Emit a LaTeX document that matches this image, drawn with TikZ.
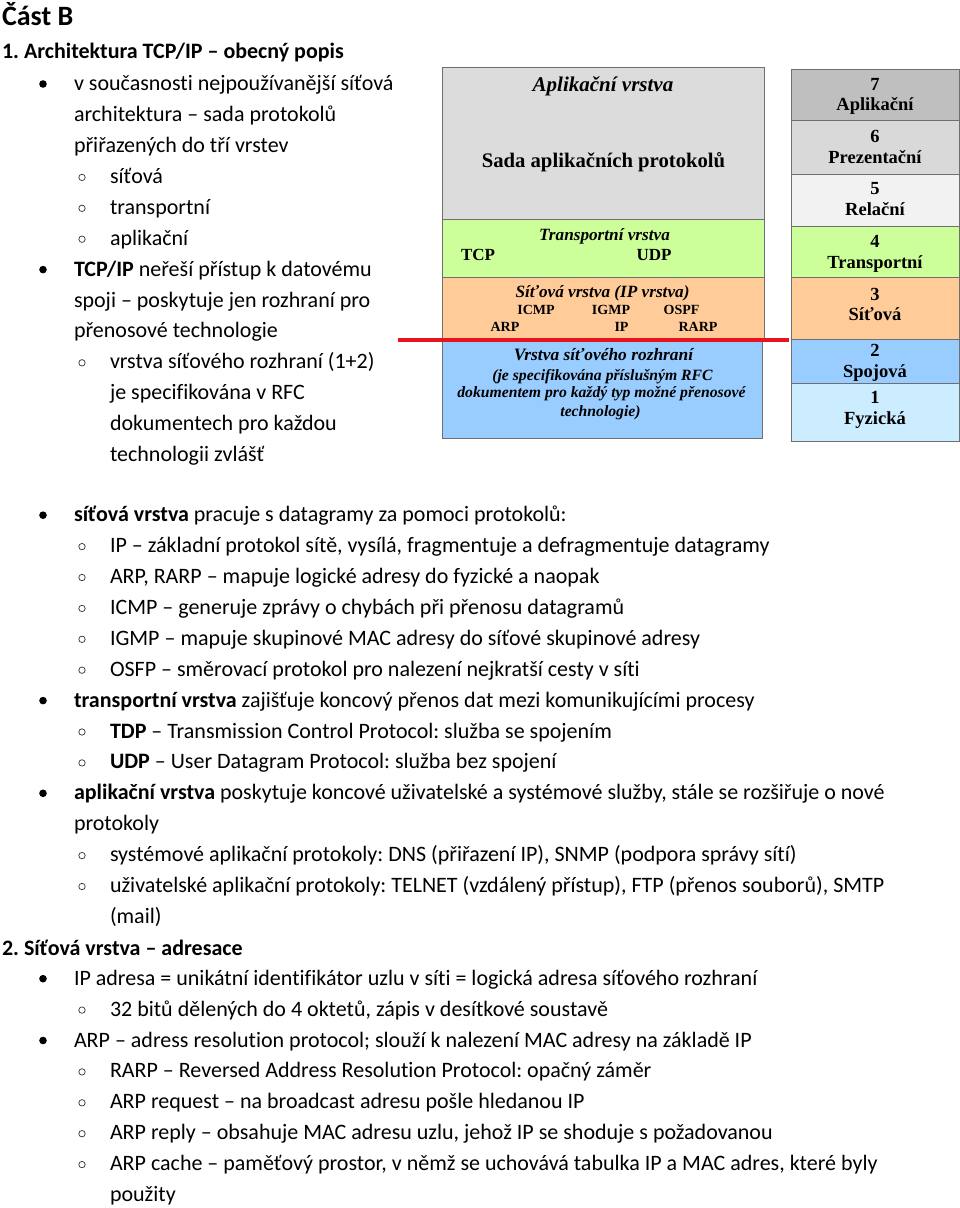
\documentclass[tikz,border=0pt]{standalone}
\usepackage{fontspec}
\setmainfont[Ligatures=NoCommon]{Carlito}
\newfontfamily\tnr{Liberation Serif}
\definecolor{appgray}{HTML}{DCDCDC}
\definecolor{trgreen}{HTML}{CCFF99}
\definecolor{netorange}{HTML}{FFCC99}
\definecolor{ifblue}{HTML}{99CCFF}
\definecolor{physblue}{HTML}{CCECFF}
\definecolor{g7}{HTML}{BFBFBF}
\definecolor{g6}{HTML}{D9D9D9}
\definecolor{g5}{HTML}{F2F2F2}
\definecolor{redline}{HTML}{E8141B}
\definecolor{boxline}{HTML}{6F6F6F}
\frenchspacing
\begin{document}
\begin{tikzpicture}[x={(1pt,0pt)}, y={(0pt,-1pt)},
  body/.style={anchor=base west, inner sep=0pt, outer sep=0pt, font=\fontsize{22}{26}\selectfont},
  head/.style={anchor=base west, inner sep=0pt, outer sep=0pt, font=\fontsize{22}{26}\selectfont\bfseries},
  lay/.style={draw=boxline, line width=0.8pt, anchor=north west, inner sep=0pt, outer sep=0pt},
  dtitle/.style={anchor=base, inner sep=0pt, font=\tnr\fontsize{17.2}{20}\selectfont\bfseries\itshape},
  dtop/.style={anchor=base, inner sep=0pt, font=\tnr\fontsize{21}{24}\selectfont\bfseries\itshape},
  dbig/.style={anchor=base, inner sep=0pt, font=\tnr\fontsize{20.7}{24}\selectfont\bfseries},
  dmid/.style={anchor=base, inner sep=0pt, font=\tnr\fontsize{17}{20}\selectfont\bfseries},
  dsmall/.style={anchor=base, inner sep=0pt, font=\tnr\fontsize{14}{16}\selectfont\bfseries},
  dblue/.style={anchor=base, inner sep=0pt, font=\tnr\fontsize{15.7}{18}\selectfont\bfseries\itshape},
  dbluet/.style={anchor=base, inner sep=0pt, font=\tnr\fontsize{17.4}{20}\selectfont\bfseries\itshape},
  osi/.style={anchor=base, inner sep=0pt, font=\tnr\fontsize{18.5}{21}\selectfont\bfseries},
  dot/.style={fill=black},
  ring/.style={draw=black!80, line width=0.7pt}
]
\useasboundingbox (0,0) rectangle (960,1208);
\fill[white] (0,0) rectangle (960,1208);

% ---------------- diagram: TCP/IP stack ----------------
\node[lay, fill=appgray, minimum width=322pt, minimum height=152pt] (app) at (442,67) {};
\node[lay, fill=trgreen, minimum width=322pt, minimum height=58pt] (tr) at (442,219) {};
\node[lay, fill=netorange, minimum width=322pt, minimum height=61pt] (net) at (442,277) {};
\node[lay, fill=ifblue, minimum width=320pt, minimum height=97pt] (nif) at (442,341) {};
\coordinate (rl) at (398,340);
\coordinate (rr) at (789,340);
\draw[redline, line width=4pt] (rl) -- (rr);

\node[dtop] (appt) at (603,91.7) {Aplikační vrstva};
\node[dbig] (appp) at (603.5,167.3) {Sada aplikačních protokolů};
\node[dtitle] (trt) at (604.5,240) {Transportní vrstva};
\node[dmid] (tcp) at (478,260.7) {TCP};
\node[dmid] (udp) at (654,260.7) {UDP};
\node[dtitle] (nett) at (602.5,297.3) {Síťová vrstva (IP vrstva)};
\node[dsmall] (icmp) at (536,314.3) {ICMP};
\node[dsmall] (igmp) at (611,314.3) {IGMP};
\node[dsmall] (ospf) at (681.5,314.3) {OSPF};
\node[dsmall] (arp) at (505,331) {ARP};
\node[dsmall] (ip) at (621.5,331) {IP};
\node[dsmall] (rarp) at (698,331) {RARP};
\node[dbluet] (nif1) at (603.5,360) {Vrstva síťového rozhraní};
\node[dblue] (nif2) at (602.5,380) {(je specifikována příslušným RFC};
\node[dblue] (nif3) at (601.5,397.5) {dokumentem pro každý typ možné přenosové};
\node[dblue] (nif4) at (600.5,416) {technologie)};

% ---------------- diagram: OSI stack ----------------
\node[lay, fill=g7, minimum width=168pt, minimum height=51pt] (o7) at (791,69) {};
\node[lay, fill=g6, minimum width=168pt, minimum height=54pt] (o6) at (791,120) {};
\node[lay, fill=g5, minimum width=168pt, minimum height=52pt] (o5) at (791,174) {};
\node[lay, fill=trgreen, minimum width=168pt, minimum height=51pt] (o4) at (791,226) {};
\node[lay, fill=netorange, minimum width=168pt, minimum height=62pt] (o3) at (791,277) {};
\node[lay, fill=ifblue, minimum width=168pt, minimum height=44pt] (o2) at (791,339) {};
\node[lay, fill=physblue, minimum width=168pt, minimum height=58pt] (o1) at (791,383) {};
\node[osi] (n7) at (875,90) {7};
\node[osi] (l7) at (875,110) {Aplikační};
\node[osi] (n6) at (875,142) {6};
\node[osi] (l6) at (875,163) {Prezentační};
\node[osi] (n5) at (875,194) {5};
\node[osi] (l5) at (875,215) {Relační};
\node[osi] (n4) at (875,247) {4};
\node[osi] (l4) at (875,268) {Transportní};
\node[osi] (n3) at (875,300) {3};
\node[osi] (l3) at (875,320) {Síťová};
\node[osi] (n2) at (875,356) {2};
\node[osi] (l2) at (875,377) {Spojová};
\node[osi] (n1) at (875,403) {1};
\node[osi] (l1) at (875,424) {Fyzická};

% ---------------- text ----------------
\node[anchor=base west, inner sep=0pt, outer sep=0pt, font=\fontsize{28}{32}\selectfont\bfseries] (cast) at (2,25) {Část B};
\node[head] (h1) at (2,58.3) {1. Architektura TCP/IP – obecný popis};

\foreach \y in {90.5,276.1} \fill[dot] (43,\y) ++(0,-6.5) circle (3.8pt);
\foreach \y in {183.4,214.3,245.2,368.8} \draw[ring] (82,\y) ++(0,-6) circle (3.2pt);

\node[body] (a1) at (74,90.5) {v současnosti nejpoužívanější síťová};
\node[body] (a2) at (74,121.4) {architektura – sada protokolů};
\node[body] (a3) at (74,152.3) {přiřazených do tří vrstev};
\node[body] (a4) at (110,183.4) {síťová};
\node[body] (a5) at (110,214.3) {transportní};
\node[body] (a6) at (110,245.2) {aplikační};
\node[body] (a7) at (74,276.1) {\textbf{TCP/IP} neřeší přístup k datovému};
\node[body] (a8) at (74,307) {spoji – poskytuje jen rozhraní pro};
\node[body] (a9) at (74,337.9) {přenosové technologie};
\node[body] (a10) at (110,368.8) {vrstva síťového rozhraní (1+2)};
\node[body] (a11) at (110,399.7) {je specifikována v RFC};
\node[body] (a12) at (110,430.6) {dokumentech pro každou};
\node[body] (a13) at (110,461.5) {technologii zvlášť};

% lower part: baseline = 521.7 + 30.9 n
\foreach \n in {0,6,9,15,17} \fill[dot] (43,521.7+30.9*\n) ++(0,-6.5) circle (3.8pt);
\foreach \n in {1,2,3,4,5,7,8,11,12,16,18,19,20,21} \draw[ring] (82,521.7+30.9*\n) ++(0,-6) circle (3.2pt);

\node[body] (b0) at (74,521.7) {\textbf{síťová vrstva} pracuje s datagramy za pomoci protokolů:};
\node[body] (b1) at (110,552.6) {IP – základní protokol sítě, vysílá, fragmentuje a defragmentuje datagramy};
\node[body] (b2) at (110,583.5) {ARP, RARP – mapuje logické adresy do fyzické a naopak};
\node[body] (b3) at (110,614.4) {ICMP – generuje zprávy o chybách při přenosu datagramů};
\node[body] (b4) at (110,645.3) {IGMP – mapuje skupinové MAC adresy do síťové skupinové adresy};
\node[body] (b5) at (110,676.2) {OSFP – směrovací protokol pro nalezení nejkratší cesty v síti};
\node[body] (b6) at (74,707.1) {\textbf{transportní vrstva} zajišťuje koncový přenos dat mezi komunikujícími procesy};
\node[body] (b7) at (110,738) {\textbf{TDP} – Transmission Control Protocol: služba se spojením};
\node[body] (b8) at (110,768.9) {\textbf{UDP} – User Datagram Protocol: služba bez spojení};
\node[body] (b9) at (74,799.8) {\textbf{aplikační vrstva} poskytuje koncové uživatelské a systémové služby, stále se rozšiřuje o nové};
\node[body] (b10) at (74,830.7) {protokoly};
\node[body] (b11) at (110,861.6) {systémové aplikační protokoly: DNS (přiřazení IP), SNMP (podpora správy sítí)};
\node[body] (b12) at (110,892.5) {uživatelské aplikační protokoly: TELNET (vzdálený přístup), FTP (přenos souborů), SMTP};
\node[body] (b13) at (110,923.4) {(mail)};
\node[head] (h2) at (2,955.3) {2. Síťová vrstva – adresace};
\node[body] (b15) at (74,985.2) {IP adresa = unikátní identifikátor uzlu v síti = logická adresa síťového rozhraní};
\node[body] (b16) at (110,1016.1) {32 bitů dělených do 4 oktetů, zápis v desítkové soustavě};
\node[body] (b17) at (74,1047) {ARP – adress resolution protocol; slouží k nalezení MAC adresy na základě IP};
\node[body] (b18) at (110,1077.9) {RARP – Reversed Address Resolution Protocol: opačný záměr};
\node[body] (b19) at (110,1108.8) {ARP request – na broadcast adresu pošle hledanou IP};
\node[body] (b20) at (110,1139.7) {ARP reply – obsahuje MAC adresu uzlu, jehož IP se shoduje s požadovanou};
\node[body] (b21) at (110,1170.6) {ARP cache – paměťový prostor, v němž se uchovává tabulka IP a MAC adres, které byly};
\node[body] (b22) at (110,1201.5) {použity};
\end{tikzpicture}
\end{document}
